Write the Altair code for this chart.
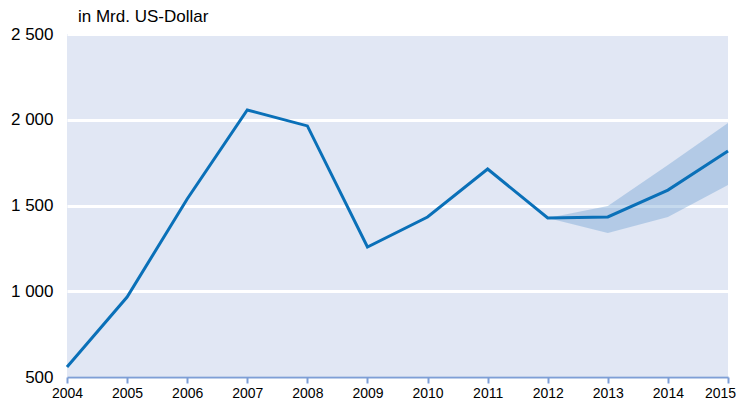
import altair as alt
import pandas as pd

years = [2004, 2005, 2006, 2007, 2008, 2009, 2010, 2011, 2012, 2013, 2014, 2015]
values = [558, 966, 1538, 2057, 1964, 1258, 1433, 1713, 1427, 1433, 1590, 1818]

band_years = [2012, 2013, 2014, 2015]
band_low = [1427, 1340, 1433, 1619]
band_high = [1427, 1497, 1736, 1981]

df = pd.DataFrame({"year": years, "value": values})
band = pd.DataFrame({"year": band_years, "low": band_low, "high": band_high})

xscale = alt.Scale(domain=[2004, 2015], nice=False, zero=False)
yscale = alt.Scale(domain=[500, 2500], nice=False, zero=False)

xaxis = alt.Axis(
    title=None, values=years, format="d", grid=False,
    domainColor="#7f9fd6", domainWidth=2, tickColor="#7f9fd6", tickWidth=2, tickSize=6,
    labelColor="#000000", labelFontSize=14, labelFont="Liberation Sans", labelPadding=3,
    labelFlush=False,
    labelOffset=alt.condition("datum.value == 2015", alt.value(-8), alt.value(0)),
)
yaxis = alt.Axis(
    title=None, values=[500, 1000, 1500, 2000, 2500], domain=False, ticks=False,
    grid=True, gridColor="#ffffff", gridWidth=3,
    labelExpr="replace(format(datum.value, ',d'), ',', ' ')",
    labelColor="#000000", labelFontSize=17, labelFont="Liberation Sans", labelPadding=14,
)

area = alt.Chart(band).mark_area(color="#6f9fd2", opacity=0.4).encode(
    x=alt.X("year:Q", scale=xscale, axis=xaxis),
    y=alt.Y("low:Q", scale=yscale, axis=yaxis),
    y2="high:Q",
)

line = alt.Chart(df).mark_line(color="#0a70b8", strokeWidth=3).encode(
    x=alt.X("year:Q", scale=xscale),
    y=alt.Y("value:Q", scale=yscale),
)

chart = alt.layer(area, line).properties(
    width=661, height=343,
    autosize=alt.AutoSizeParams(type="none"),
    padding={"left": 59, "top": 26, "right": 9, "bottom": 26},
    title=alt.TitleParams(
        "in Mrd. US-Dollar", anchor="start", frame="group", dx=11, offset=0, dy=1,
        fontSize=17, fontWeight="normal", font="Liberation Sans", color="#000000",
    ),
).configure(background="#ffffff").configure_view(fill="#e1e7f4", stroke=None)

chart.save("out.html", embed_options={"renderer": "svg", "actions": False})
